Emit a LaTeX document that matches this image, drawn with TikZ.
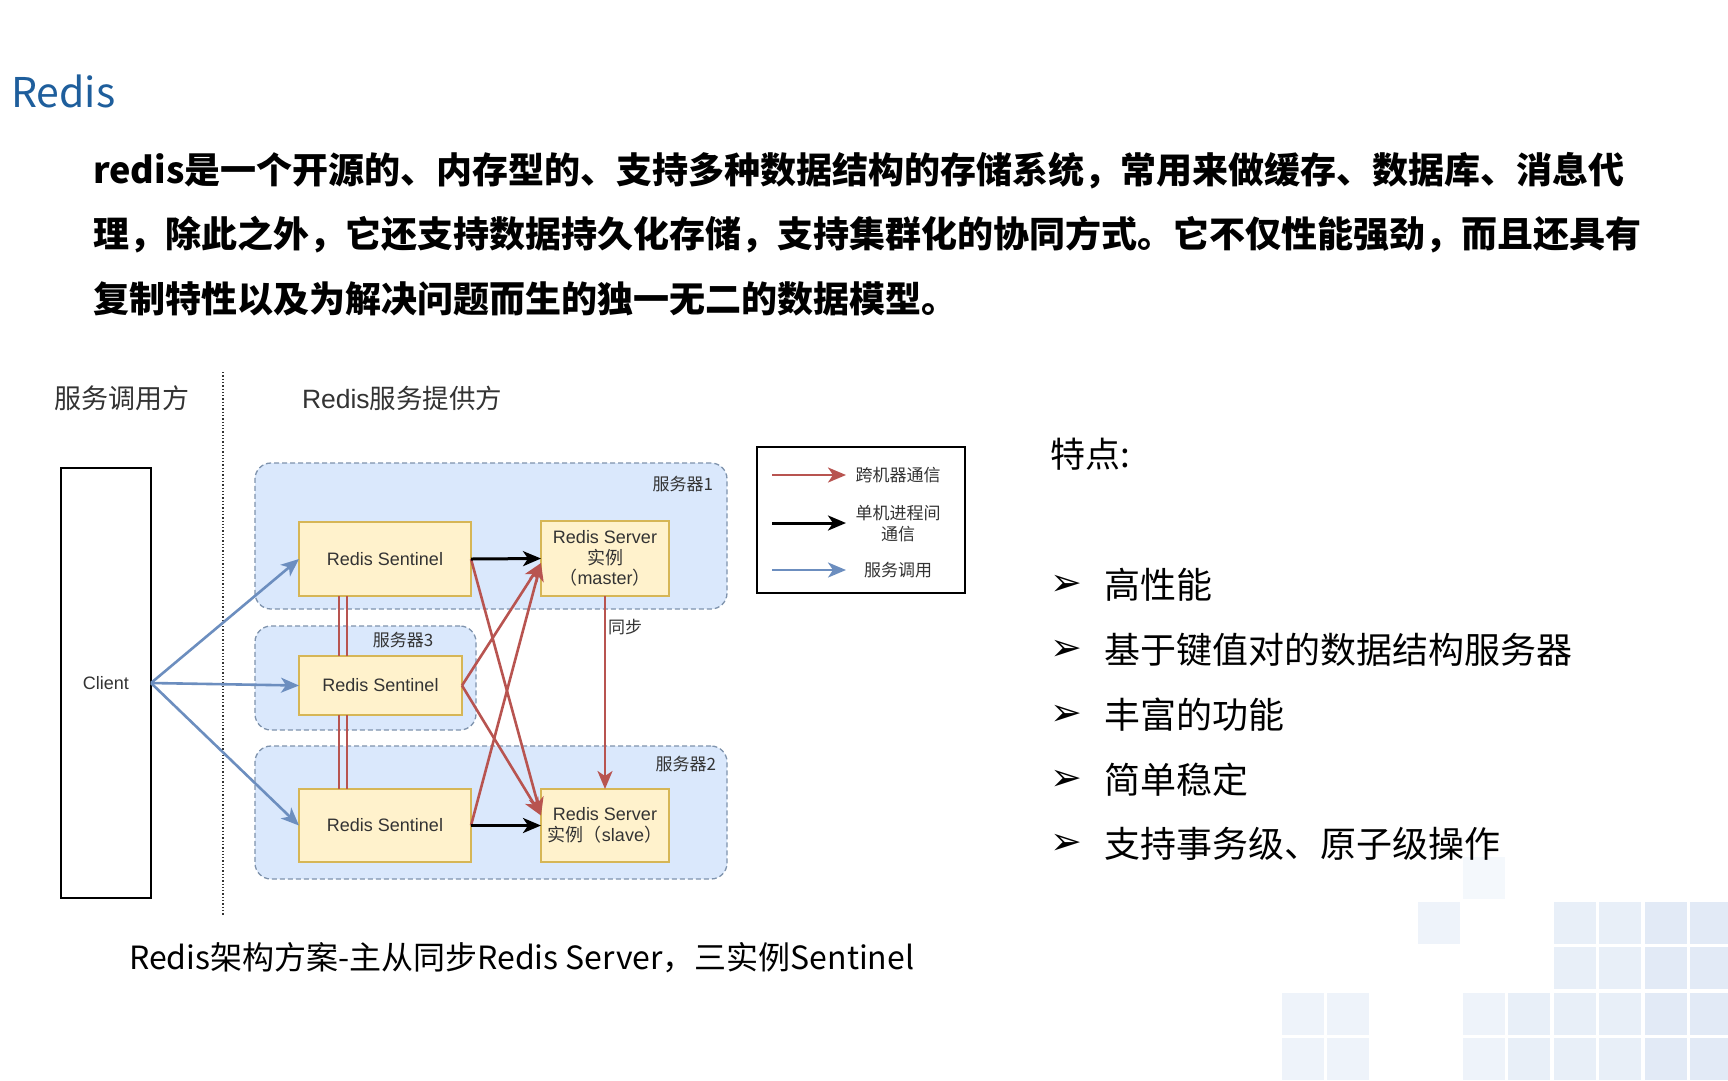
\documentclass[tikz,border=0pt]{standalone}
\usepackage{fontspec}
\setmainfont{Noto Sans CJK SC}
\newfontfamily\cjk{Noto Sans CJK SC}
\newfontfamily\ar{Liberation Sans}
\newfontfamily\dv{DejaVu Sans}
\usetikzlibrary{arrows.meta,calc}
\definecolor{titleblue}{HTML}{1E5E9C}
\definecolor{grpfill}{HTML}{DAE8FC}
\definecolor{grpline}{HTML}{7F93AD}
\definecolor{boxfill}{HTML}{FFF2CC}
\definecolor{boxline}{HTML}{D6B656}
\definecolor{cred}{HTML}{B85450}
\definecolor{cblue}{HTML}{6C8EBF}
\definecolor{txt}{HTML}{333333}
\definecolor{tileA}{HTML}{EEF3FA}
\definecolor{tileB}{HTML}{E8EFF8}
\definecolor{tileC}{HTML}{E2EAF6}
\definecolor{tileF}{HTML}{F4F8FC}
\begin{document}
\begin{tikzpicture}[x=1pt,y=-1pt,
  every node/.style={inner sep=0pt, outer sep=0pt},
  grp/.style={draw=grpline, fill=grpfill, dashed, dash pattern=on 5pt off 3pt, line width=1.3pt, rounded corners=16pt},
  grplabel/.style={font=\fontsize{17}{17}\selectfont, text=txt},
  ybox/.style={draw=boxline, fill=boxfill, line width=1.5pt, font=\ar\fontsize{18}{20.5}\selectfont, text=txt, align=center},
  tipstyle/.style={-{Stealth[length=18pt,width=15pt,inset=5pt]}},
  bluearr/.style={draw=cblue, line width=2.6pt, tipstyle},
  redarr/.style={draw=cred, line width=2.6pt, tipstyle},
  blackarr/.style={draw=black, line width=3pt, tipstyle},
  redline/.style={draw=cred, line width=2.4pt},
  bigtext/.style={font=\fontsize{36}{36}\selectfont, text=black},
  tile/.style={minimum width=42pt, minimum height=42pt}
]
\fill[white] (0,0) rectangle (1728,1080);
\useasboundingbox (0,0) rectangle (1728,1080);

% background tiles
\foreach \x/\c in {1554/tileB,1599/tileB,1645/tileC,1690/tileC}{
  \foreach \y in {902,947}{
    \node[tile, fill=\c, anchor=north west] (t\x-\y) at (\x,\y) {};
  }
}
\foreach \x/\c in {1282/tileA,1327/tileA,1463/tileA,1508/tileB,1554/tileB,1599/tileB,1645/tileC,1690/tileC}{
  \foreach \y in {993,1038}{
    \node[tile, fill=\c, anchor=north west] (t\x-\y) at (\x,\y) {};
  }
}
\node[tile, fill=tileA, anchor=north west] (tsingle) at (1418,902) {};
\node[tile, fill=tileF, anchor=north west] (tfaint) at (1463,857) {};

% title and paragraph
\node[anchor=base west, font=\fontsize{41}{41}\selectfont, text=titleblue] (title) at (11,107) {Redis};
\node[bigtext, anchor=west, font=\fontsize{36}{36}\selectfont\bfseries] (p1) at (93,171) {redis是一个开源的、内存型的、支持多种数据结构的存储系统，常用来做缓存、数据库、消息代};
\node[bigtext, anchor=west, font=\fontsize{36}{36}\selectfont\bfseries] (p2) at (93,235) {理，除此之外，它还支持数据持久化存储，支持集群化的协同方式。它不仅性能强劲，而且还具有};
\node[bigtext, anchor=west, font=\fontsize{36}{36}\selectfont\bfseries] (p3) at (93,299) {复制特性以及为解决问题而生的独一无二的数据模型。};

% diagram headers
\node[anchor=west, font=\fontsize{27}{27}\selectfont, text=txt] (h1) at (54,398) {服务调用方};
\node[anchor=west, font=\fontsize{26.5}{26.5}\selectfont, text=txt] (h2) at (302,398) {{\ar Redis}服务提供方};
\coordinate (dtop) at (223,372);
\coordinate (dbot) at (223,915);
\draw[line width=1.3pt, dotted, draw=txt] (dtop) -- (dbot);

% client
\node[draw=black, line width=1.6pt, minimum width=90pt, minimum height=430pt, font=\ar\fontsize{18}{18}\selectfont, text=txt] (client) at (106,683) {Client};

% groups
\node[grp, minimum width=472pt, minimum height=146pt] (g1) at (491,536) {};
\node[grp, minimum width=221pt, minimum height=104pt] (g3) at (365.5,678) {};
\node[grp, minimum width=472pt, minimum height=133pt] (g2) at (491,812.5) {};
\node[grplabel, anchor=east] (g1l) at (713,484) {服务器1};
\node[grplabel] (g3l) at (403,640) {服务器3};
\node[grplabel, anchor=east] (g2l) at (716,764) {服务器2};

% boxes
\node[ybox, minimum width=172pt, minimum height=74pt] (s1) at (385,559) {Redis Sentinel};
\node[ybox, minimum width=163pt, minimum height=59pt] (s3) at (380.5,685.5) {Redis Sentinel};
\node[ybox, minimum width=172pt, minimum height=73pt] (s2) at (385,825.5) {Redis Sentinel};
\node[ybox, minimum width=128pt, minimum height=75pt] (master) at (605,558.5) {Redis Server\\{\cjk 实例}\\{\cjk （}master{\cjk ）}};
\node[ybox, minimum width=128pt, minimum height=73pt] (slave) at (605,825.5) {Redis Server\\{\cjk 实例（}slave{\cjk ）}};

% double red links between sentinels
\draw[redline] ([xshift=-46pt]s1.south) -- ([xshift=-46pt]s1.south |- s3.north);
\draw[redline] ([xshift=-38pt]s1.south) -- ([xshift=-38pt]s1.south |- s3.north);
\draw[redline] ([xshift=-46pt]s1.south |- s3.south) -- ([xshift=-46pt]s1.south |- s2.north);
\draw[redline] ([xshift=-38pt]s1.south |- s3.south) -- ([xshift=-38pt]s1.south |- s2.north);

% blue service calls
\draw[bluearr] (client.east) -- (s1.west);
\draw[bluearr] (client.east) -- (s3.west);
\draw[bluearr] (client.east) -- (s2.west);

% red cross-machine
\draw[redarr] (s1.east) -- ([yshift=10pt]slave.west);
\draw[redarr] (s3.east) -- ([yshift=-4.5pt]master.west);
\draw[redarr] (s3.east) -- ([yshift=10pt]slave.west);
\draw[redarr] (s2.east) -- ([yshift=-4.5pt]master.west);

% black local
\draw[blackarr] (s1.east) -- (master.west);
\draw[blackarr] (s2.east) -- (slave.west);

% sync
\draw[redarr] (master.south) -- node[pos=0.16, right=3pt, font=\fontsize{17}{17}\selectfont, text=txt] (synclbl) {同步} (slave.north);

% legend
\node[draw=black, line width=1.6pt, minimum width=208pt, minimum height=146pt] (legend) at (861,520) {};
\coordinate (l1a) at (772,475);
\coordinate (l1b) at (846,475);
\coordinate (l2a) at (772,523);
\coordinate (l2b) at (846,523);
\coordinate (l3a) at (772,570);
\coordinate (l3b) at (846,570);
\draw[redarr] (l1a) -- (l1b);
\draw[blackarr] (l2a) -- (l2b);
\draw[bluearr] (l3a) -- (l3b);
\node[font=\fontsize{17}{17}\selectfont, text=txt] (lt1) at (898,475) {跨机器通信};
\node[font=\fontsize{17}{21}\selectfont, text=txt, align=center] (lt2) at (898,524) {单机进程间\\通信};
\node[font=\fontsize{17}{17}\selectfont, text=txt] (lt3) at (898,570) {服务调用};

% caption
\node[anchor=west, font=\fontsize{32}{32}\selectfont, text=black] (caption) at (129,958) {Redis架构方案-主从同步Redis Server，三实例Sentinel};

% features
\node[anchor=west, font=\fontsize{35}{35}\selectfont, text=black] (feat) at (1050,454) {特点:};
\foreach \i/\t/\y in {1/高性能/585, 2/基于键值对的数据结构服务器/650, 3/丰富的功能/715, 4/简单稳定/780, 5/支持事务级、原子级操作/844}{
  \node[anchor=west, font=\dv\fontsize{38}{38}\selectfont] (b\i) at (1050,\y) {➢};
  \node[anchor=west, font=\fontsize{36}{36}\selectfont, text=black] (f\i) at (1104,\y) {\t};
}
\end{tikzpicture}
\end{document}
